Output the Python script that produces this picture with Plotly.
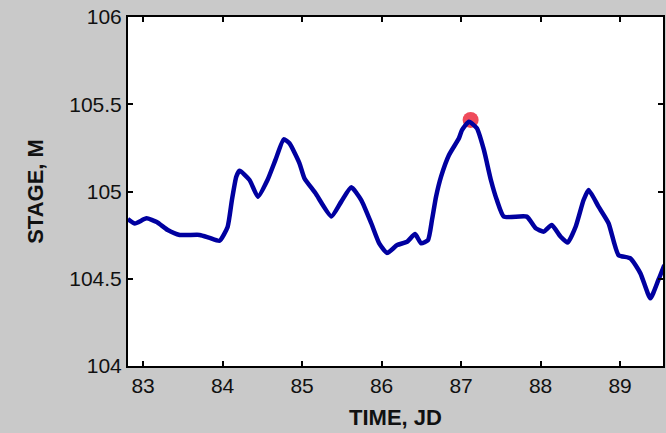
import plotly.graph_objects as go

# Data (time in JD, stage in m)
time_jd = [82.808, 82.896, 83.043, 83.172, 83.310, 83.460, 83.711, 83.837, 83.962, 84.063,
           84.117, 84.172, 84.213, 84.339, 84.445, 84.565, 84.665, 84.769, 84.841, 84.966,
           85.029, 85.167, 85.368, 85.493, 85.619, 85.744, 85.870, 85.970, 86.070, 86.196,
           86.321, 86.421, 86.497, 86.584, 86.634, 86.685, 86.748, 86.848, 86.973, 87.011,
           87.099, 87.199, 87.287, 87.375, 87.450, 87.538, 87.826, 87.939, 88.040, 88.140,
           88.253, 88.341, 88.441, 88.541, 88.604, 88.729, 88.855, 88.980, 89.130, 89.256,
           89.381, 89.482, 89.557]
stage_m = [104.842, 104.817, 104.846, 104.825, 104.779, 104.751, 104.751, 104.734, 104.718, 104.797,
           104.951, 105.085, 105.119, 105.066, 104.970, 105.066, 105.181, 105.299, 105.276, 105.163,
           105.076, 104.991, 104.857, 104.942, 105.024, 104.951, 104.818, 104.703, 104.648, 104.693,
           104.712, 104.756, 104.703, 104.722, 104.837, 104.970, 105.085, 105.209, 105.305, 105.352,
           105.400, 105.362, 105.238, 105.066, 104.951, 104.856, 104.856, 104.789, 104.770, 104.808,
           104.741, 104.707, 104.798, 104.951, 105.009, 104.913, 104.818, 104.636, 104.617, 104.531,
           104.388, 104.493, 104.579]

peak_time = [87.12]
peak_stage = [105.41]

x_tickvals = [83, 84, 85, 86, 87, 88, 89]
x_ticktext = ["83", "84", "85", "86", "87", "88", "89"]
y_tickvals = [104, 104.5, 105, 105.5, 106]
y_ticktext = ["104", "104.5", "105", "105.5", "106"]

fig = go.Figure()
fig.add_trace(go.Scatter(x=peak_time, y=peak_stage, mode="markers",
                         marker=dict(color="rgba(235,30,50,0.8)", size=16,
                                     line=dict(width=0)), showlegend=False))
fig.add_trace(go.Scatter(x=time_jd, y=stage_m, mode="lines",
                         line=dict(color="#0000a0", width=4.5, shape="spline", smoothing=0.5),
                         showlegend=False))

font_family = "Liberation Sans, Arial, sans-serif"
fig.update_layout(
    width=666, height=433,
    margin=dict(l=128, r=1, t=17, b=67),
    paper_bgcolor="#c9c9c9",
    plot_bgcolor="#ffffff",
    font=dict(family=font_family, color="#111111", size=21),
    xaxis=dict(range=[82.81, 89.54], tickvals=x_tickvals, ticktext=x_ticktext,
               showgrid=False, zeroline=False, showline=True, linecolor="black",
               linewidth=2, mirror="ticks", ticks="inside", ticklen=5, tickwidth=2,
               tickcolor="black", tickfont=dict(size=21),
               title=dict(text="<b>TIME, JD</b>", font=dict(size=22), standoff=13)),
    yaxis=dict(range=[104, 106], tickvals=y_tickvals, ticktext=y_ticktext,
               showgrid=False, zeroline=False, showline=True, linecolor="black",
               linewidth=2, mirror="ticks", ticks="inside", ticklen=5, tickwidth=2,
               tickcolor="black", tickfont=dict(size=21),
               title=dict(text="<b>STAGE, M</b>", font=dict(size=22), standoff=20)),
)

fig.write_html("out.html")
